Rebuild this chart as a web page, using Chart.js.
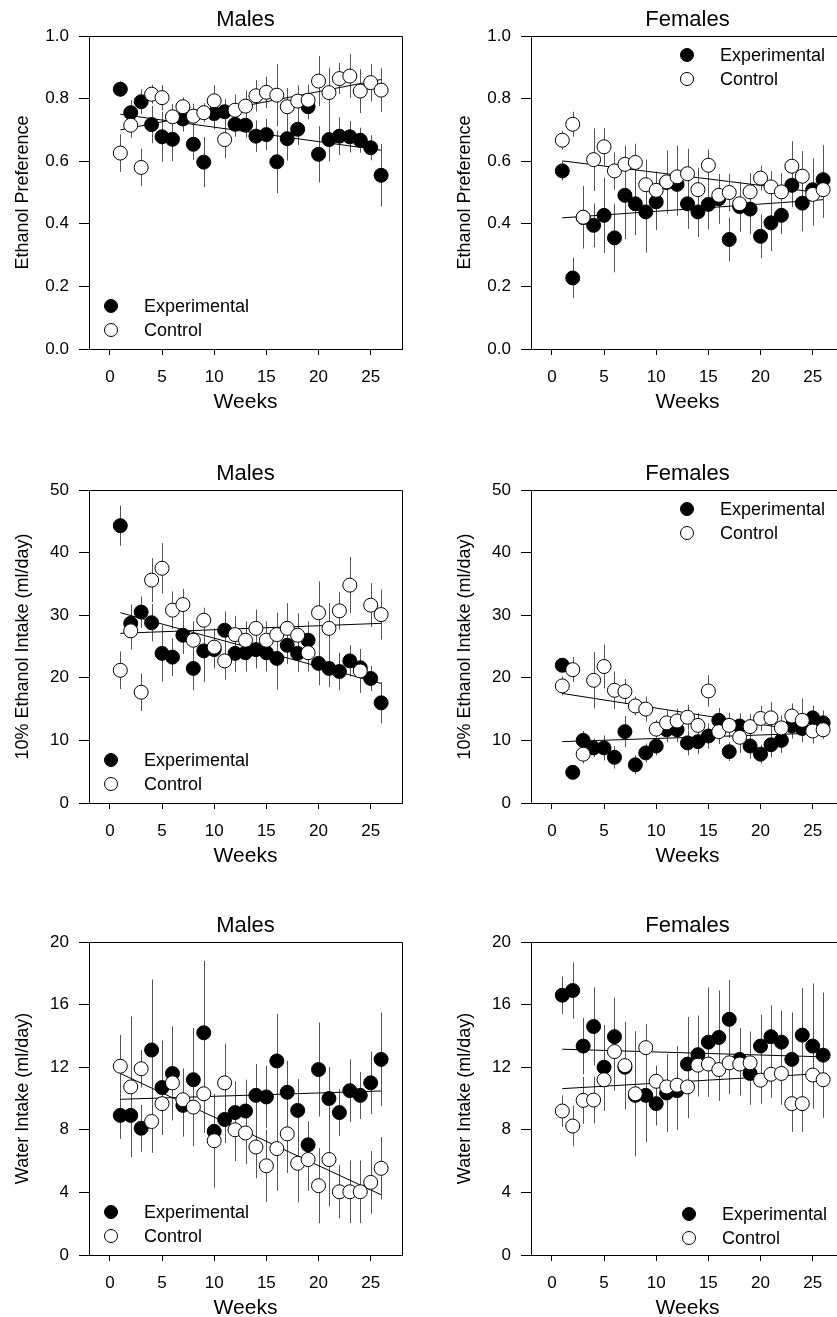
<!DOCTYPE html>
<html>
<head>
<meta charset="utf-8">
<script src="https://cdn.jsdelivr.net/npm/chart.js@4.4.0/dist/chart.umd.min.js"></script>
<style>
  html, body { margin: 0; padding: 0; background: #fff; }
  body { position: relative; width: 837px; height: 1317px; overflow: hidden; }
  canvas { position: absolute; }
</style>
</head>
<body>
<script>
'use strict';

// ── DATA ─────────────────────────────────────────────────────

const WEEKS     = [1,2,3,4,5,6,7,8,9,10,11,12,13,14,15,16,17,18,19,20,21,22,23,24,25,26];
const FIT_WEEKS = [1, 26];
const X_TICKS   = [0, 5, 10, 15, 20, 25];

const PREF_TICKS   = [0, 0.2, 0.4, 0.6, 0.8, 1.0];
const INTAKE_TICKS = [0, 10, 20, 30, 40, 50];
const WATER_TICKS  = [0, 4, 8, 12, 16, 20];

// Males – ethanol preference
const M_PREF_EXP     = [0.83,0.755,0.79,0.717,0.678,0.67,0.735,0.654,0.597,0.752,0.758,0.718,0.715,0.68,0.685,0.598,0.672,0.702,0.774,0.622,0.669,0.68,0.678,0.667,0.643,0.555];
const M_PREF_EXP_ERR = [0.025,0.04,0.04,0.06,0.08,0.07,0.04,0.05,0.08,0.05,0.04,0.04,0.04,0.05,0.05,0.1,0.07,0.05,0.04,0.09,0.07,0.06,0.05,0.04,0.04,0.1];
const M_PREF_CON     = [0.626,0.715,0.58,0.814,0.803,0.742,0.774,0.744,0.755,0.793,0.669,0.763,0.776,0.809,0.82,0.811,0.774,0.792,0.795,0.856,0.819,0.864,0.872,0.824,0.851,0.827];
const M_PREF_CON_ERR = [0.06,0.04,0.06,0.03,0.04,0.04,0.03,0.04,0.03,0.05,0.06,0.05,0.05,0.05,0.05,0.1,0.06,0.05,0.05,0.08,0.08,0.05,0.07,0.07,0.06,0.07];
const M_PREF_EXP_FIT = [0.75, 0.635];
const M_PREF_CON_FIT = [0.70, 0.861];

// Females – ethanol preference
const F_PREF_EXP     = [0.569,0.227,0.42,0.395,0.427,0.355,0.491,0.464,0.438,0.47,0.532,0.526,0.464,0.438,0.462,0.48,0.35,0.455,0.447,0.36,0.403,0.427,0.523,0.466,0.509,0.541];
const F_PREF_EXP_ERR = [0.03,0.065,0.08,0.07,0.12,0.11,0.14,0.1,0.13,0.09,0.1,0.1,0.08,0.08,0.08,0.08,0.07,0.08,0.08,0.07,0.09,0.06,0.07,0.09,0.1,0.11];
const F_PREF_CON     = [0.667,0.718,0.421,0.605,0.646,0.569,0.59,0.596,0.525,0.507,0.534,0.55,0.56,0.509,0.587,0.491,0.5,0.464,0.502,0.546,0.518,0.502,0.584,0.552,0.494,0.509];
const F_PREF_CON_ERR = [0.03,0.04,0.1,0.1,0.06,0.06,0.06,0.06,0.08,0.06,0.1,0.1,0.08,0.07,0.05,0.06,0.06,0.06,0.06,0.04,0.05,0.06,0.08,0.08,0.1,0.09];
const F_PREF_EXP_FIT = [0.419, 0.477];
const F_PREF_CON_FIT = [0.601, 0.498];

// Males – 10% ethanol intake
const M_INT_EXP     = [44.3,28.7,30.5,28.8,23.9,23.3,26.8,21.5,24.3,24.5,27.6,23.9,24.0,24.5,24.0,23.1,25.2,23.9,26.0,22.3,21.5,21.0,22.7,21.6,19.9,16.0];
const M_INT_EXP_ERR = [3.2,3,2.5,3,4.5,3,3,3.5,5,3,3,3,3,3,3,5,3,3,3,3.5,3,3,2.5,2.5,2,3.3];
const M_INT_CON     = [21.2,27.5,17.7,35.6,37.5,30.8,31.7,26.0,29.2,24.9,22.7,26.9,26.0,27.9,26.0,26.9,27.9,26.8,24.0,30.4,27.9,30.7,34.8,21.1,31.6,30.1];
const M_INT_CON_ERR = [3,3,3,3.5,4,3,2.5,3,2,3,3,3,3,3,3,3.5,4,3.5,3,5,4,3,4.5,3.5,3.5,4];
const M_INT_EXP_FIT = [30.4, 19.1];
const M_INT_CON_FIT = [27.1, 28.7];

// Females – 10% ethanol intake
const F_INT_EXP     = [22.0,4.9,10.0,8.8,8.8,7.3,11.4,6.1,8.0,9.1,11.7,11.7,9.6,9.8,10.7,13.2,8.2,12.3,9.1,7.8,9.3,10.0,12.3,11.9,13.6,12.8];
const F_INT_EXP_ERR = [1,1,1.5,1.5,2,1.8,2.5,1.5,1.5,1.5,2,2,2,2,2,2,1.5,2,2,1.5,2,2,2,2,2,2];
const F_INT_CON     = [18.7,21.3,7.8,19.6,21.8,18.0,17.8,15.5,15.0,11.8,12.8,13.1,13.7,12.4,17.9,11.4,12.4,10.5,12.2,13.5,13.6,12.0,13.9,13.2,11.5,11.7];
const F_INT_CON_ERR = [1.5,2,1.5,4.5,3.5,3,2,1.5,2,1.5,2,2,2,2,2.5,2,2,2.5,2,2,2.5,2,2,3.5,2,1.5];
const F_INT_EXP_FIT = [9.8, 11.2];
const F_INT_CON_FIT = [17.5, 11.0];

// Males – water intake
const M_WAT_EXP     = [8.92,8.92,8.1,13.1,10.7,11.6,9.56,11.2,14.2,7.9,8.66,9.1,9.2,10.2,10.1,12.4,10.4,9.24,7.04,11.85,10.0,9.1,10.5,10.2,11.0,12.5];
const M_WAT_EXP_ERR = [1.5,2.5,1.5,4.5,3,3,2,3.3,4.6,1,1.5,2,2,2,2,3,2,2,1.5,3,2,1.5,2,1.5,2,3];
const M_WAT_CON     = [12.06,10.74,11.9,8.53,9.67,11.0,9.92,9.45,10.3,7.3,11.0,8.0,7.8,6.9,5.7,6.8,7.74,5.86,6.1,4.43,6.1,4.04,4.04,4.04,4.64,5.54];
const M_WAT_CON_ERR = [2,4.5,1.2,2,2,2,2,2.5,2.5,3,2.5,2,2,2,2.3,2.7,2.5,2.5,2,2.4,3,1.7,2,2,2,2];
const M_WAT_EXP_FIT = [9.95, 10.48];
const M_WAT_CON_FIT = [11.6, 3.85];

// Females – water intake
const F_WAT_EXP     = [16.6,16.9,13.35,14.6,12.0,13.95,12.0,10.2,10.2,9.67,10.35,10.5,12.2,12.8,13.6,13.9,15.06,12.5,11.6,13.35,13.95,13.6,12.5,14.05,13.35,12.77];
const F_WAT_EXP_ERR = [1.2,1.8,1.8,2.5,2.7,2.5,2.5,3.7,3,1.4,2.5,2.5,3,2.5,3.5,3,2.5,2,2,2,2,2,3,3,4,4];
const F_WAT_CON     = [9.2,8.24,9.88,9.9,11.2,13.0,12.1,10.3,13.25,11.1,10.74,10.85,10.74,12.13,12.2,11.85,12.28,12.2,12.28,11.17,11.55,11.6,9.67,9.67,11.5,11.2];
const F_WAT_CON_ERR = [1,1.3,1.5,1.5,2,2.5,2.8,4,1.5,1,2,2.5,2,2,2,2,2,2,2,1.5,1.5,2,1.8,1.8,2,2];
const F_WAT_EXP_FIT = [13.15, 12.66];
const F_WAT_CON_FIT = [10.63, 11.6];

const LEGEND_LABELS = ['Experimental', 'Control'];

// ── LAYOUT ───────────────────────────────────────────────────

const FONT     = '"Liberation Sans", Arial, Helvetica, sans-serif';
const COL_LEFT = [0, 442];
const ROW_TOP  = [0, 454, 906];
const CANVAS_W = 420;
const CANVAS_H = 415;
const AXIS_W   = 89;   // y scale box width
const AXIS_H   = 66;   // x scale box height

const PANELS = [
  { row: 0, col: 0, title: 'Males',   yTitle: 'Ethanol Preference', ticks: PREF_TICKS, digits: 1,
    exp: M_PREF_EXP, expErr: M_PREF_EXP_ERR, con: M_PREF_CON, conErr: M_PREF_CON_ERR,
    expFit: M_PREF_EXP_FIT, conFit: M_PREF_CON_FIT, legend: 'bottomLeft' },
  { row: 0, col: 1, title: 'Females', yTitle: 'Ethanol Preference', ticks: PREF_TICKS, digits: 1,
    exp: F_PREF_EXP, expErr: F_PREF_EXP_ERR, con: F_PREF_CON, conErr: F_PREF_CON_ERR,
    expFit: F_PREF_EXP_FIT, conFit: F_PREF_CON_FIT, legend: 'topRight' },
  { row: 1, col: 0, title: 'Males',   yTitle: '10% Ethanol Intake (ml/day)', ticks: INTAKE_TICKS, digits: 0,
    exp: M_INT_EXP, expErr: M_INT_EXP_ERR, con: M_INT_CON, conErr: M_INT_CON_ERR,
    expFit: M_INT_EXP_FIT, conFit: M_INT_CON_FIT, legend: 'bottomLeft' },
  { row: 1, col: 1, title: 'Females', yTitle: '10% Ethanol Intake (ml/day)', ticks: INTAKE_TICKS, digits: 0,
    exp: F_INT_EXP, expErr: F_INT_EXP_ERR, con: F_INT_CON, conErr: F_INT_CON_ERR,
    expFit: F_INT_EXP_FIT, conFit: F_INT_CON_FIT, legend: 'topRight' },
  { row: 2, col: 0, title: 'Males',   yTitle: 'Water Intake (ml/day)', ticks: WATER_TICKS, digits: 0,
    exp: M_WAT_EXP, expErr: M_WAT_EXP_ERR, con: M_WAT_CON, conErr: M_WAT_CON_ERR,
    expFit: M_WAT_EXP_FIT, conFit: M_WAT_CON_FIT, legend: 'bottomLeft' },
  { row: 2, col: 1, title: 'Females', yTitle: 'Water Intake (ml/day)', ticks: WATER_TICKS, digits: 0,
    exp: F_WAT_EXP, expErr: F_WAT_EXP_ERR, con: F_WAT_CON, conErr: F_WAT_CON_ERR,
    expFit: F_WAT_EXP_FIT, conFit: F_WAT_CON_FIT, legend: 'bottomRight' }
];

// ── PLUGINS ──────────────────────────────────────────────────

const errorBars = {
  id: 'errorBars',
  beforeDatasetsDraw(chart) {
    const { ctx, scales: { x, y } } = chart;
    ctx.save();
    ctx.strokeStyle = '#555';
    ctx.lineWidth = 1;
    chart.data.datasets.forEach(ds => {
      if (!ds.errors) return;
      ds.data.forEach((pt, i) => {
        const px = Math.round(x.getPixelForValue(pt.x)) + 0.5;
        ctx.beginPath();
        ctx.moveTo(px, y.getPixelForValue(pt.y - ds.errors[i]));
        ctx.lineTo(px, y.getPixelForValue(pt.y + ds.errors[i]));
        ctx.stroke();
      });
    });
    ctx.restore();
  }
};

// top and right edges of the box
const frame = {
  id: 'frame',
  afterDraw(chart) {
    const { ctx, chartArea: a } = chart;
    ctx.save();
    ctx.strokeStyle = '#000';
    ctx.lineWidth = 1;
    ctx.beginPath();
    ctx.moveTo(a.left, Math.round(a.top) + 0.5);
    ctx.lineTo(Math.round(a.right) + 0.5, Math.round(a.top) + 0.5);
    ctx.lineTo(Math.round(a.right) + 0.5, a.bottom);
    ctx.stroke();
    ctx.restore();
  }
};

const boxLegend = {
  id: 'boxLegend',
  afterDraw(chart, args, opts) {
    const { ctx, chartArea: a } = chart;
    let mx, y0;
    if (opts.pos === 'bottomLeft')  { mx = a.left + 22;  y0 = a.bottom - 43; }
    if (opts.pos === 'topRight')    { mx = a.left + 156; y0 = a.top + 19; }
    if (opts.pos === 'bottomRight') { mx = a.left + 158; y0 = a.bottom - 41; }
    ctx.save();
    ctx.font = '18px ' + FONT;
    ctx.textBaseline = 'middle';
    ctx.textAlign = 'left';
    LEGEND_LABELS.forEach((label, i) => {
      const yy = y0 + i * 24;
      ctx.beginPath();
      ctx.arc(mx, yy, 6.5, 0, Math.PI * 2);
      ctx.fillStyle = i === 0 ? '#000' : '#fff';
      ctx.fill();
      ctx.strokeStyle = '#000';
      ctx.lineWidth = 1;
      ctx.stroke();
      ctx.fillStyle = '#000';
      ctx.fillText(label, mx + 33, yy + 1);
    });
    ctx.restore();
  }
};

// ── CHARTS ───────────────────────────────────────────────────

Chart.defaults.font.family = FONT;
Chart.defaults.color = '#000';

function points(values) {
  return values.map((v, i) => ({ x: WEEKS[i], y: v }));
}

function fitLine(values) {
  return values.map((v, i) => ({ x: FIT_WEEKS[i], y: v }));
}

function makePanel(p) {
  const canvas = document.createElement('canvas');
  canvas.width = CANVAS_W;
  canvas.height = CANVAS_H;
  canvas.style.left = COL_LEFT[p.col] + 'px';
  canvas.style.top = ROW_TOP[p.row] + 'px';
  document.body.appendChild(canvas);

  const fitStyle = { showLine: true, borderColor: '#000', borderWidth: 1, pointRadius: 0, fill: false };

  new Chart(canvas, {
    type: 'scatter',
    data: {
      datasets: [
        { label: 'Control', data: points(p.con), errors: p.conErr,
          pointRadius: 7, backgroundColor: '#fff', borderColor: '#000', borderWidth: 1 },
        { label: 'Experimental', data: points(p.exp), errors: p.expErr,
          pointRadius: 7, backgroundColor: '#000', borderColor: '#000', borderWidth: 1 },
        { label: 'fitExp', data: fitLine(p.expFit), ...fitStyle },
        { label: 'fitCon', data: fitLine(p.conFit), ...fitStyle }
      ]
    },
    options: {
      responsive: false,
      animation: false,
      events: [],
      layout: { padding: { left: 0, top: 0, right: CANVAS_W - 402, bottom: CANVAS_H - 349 - AXIS_H } },
      plugins: {
        legend: { display: false },
        tooltip: { enabled: false },
        title: {
          display: true, text: p.title, fullSize: false, color: '#000',
          font: { size: 22, weight: 'normal' }, padding: { top: 7, bottom: 2.6 }
        },
        boxLegend: { pos: p.legend }
      },
      scales: {
        x: {
          type: 'linear', min: -2, max: 28,
          afterBuildTicks: s => { s.ticks = X_TICKS.map(v => ({ value: v })); },
          afterFit: s => { s.height = AXIS_H; },
          grid: { drawOnChartArea: false, tickLength: 6, color: '#000' },
          border: { color: '#000', width: 1 },
          ticks: { padding: 12, font: { size: 17 }, color: '#000', maxRotation: 0 },
          title: { display: true, text: 'Weeks', font: { size: 21 }, color: '#000', padding: { top: 0, bottom: 0 } }
        },
        y: {
          min: p.ticks[0], max: p.ticks[p.ticks.length - 1],
          afterBuildTicks: s => { s.ticks = p.ticks.map(v => ({ value: v })); },
          afterFit: s => { s.width = AXIS_W; },
          grid: { drawOnChartArea: false, tickLength: 10, color: '#000' },
          border: { color: '#000', width: 1 },
          ticks: { padding: 10, font: { size: 17 }, color: '#000', callback: v => Number(v).toFixed(p.digits) },
          title: { display: true, text: p.yTitle, font: { size: 18 }, color: '#000', padding: { top: 12, bottom: 0 } }
        }
      }
    },
    plugins: [errorBars, frame, boxLegend]
  });
}

PANELS.forEach(makePanel);
</script>
</body>
</html>
